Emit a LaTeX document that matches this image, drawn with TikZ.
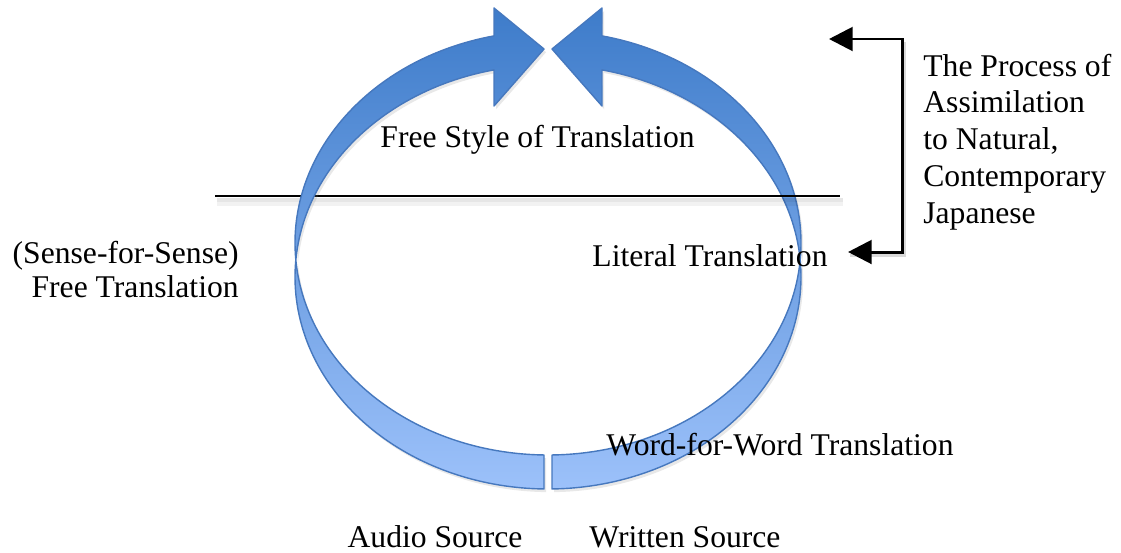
\documentclass[tikz,border=0pt]{standalone}
\usepackage{fontspec}
\setmainfont{Liberation Serif}
\usetikzlibrary{arrows.meta,shadows}
\definecolor{arrtop}{RGB}{62,124,202}
\definecolor{arrbot}{RGB}{156,193,250}
\definecolor{arredge}{RGB}{70,120,190}
\begin{document}
\begin{tikzpicture}[x=0.02cm,y=-0.02cm,
  lbl/.style={font=\fontsize{18pt}{21pt}\selectfont, inner sep=0pt},
  lblleft/.style={font=\fontsize{18pt}{19.4pt}\selectfont, inner sep=0pt, align=right},
  lblright/.style={font=\fontsize{18pt}{20.9pt}\selectfont, inner sep=0pt, align=left},
  ribbon/.style={draw=arredge, line width=0.8pt, top color=arrtop, bottom color=arrbot,
    line join=round, drop shadow={shadow xshift=1.2pt, shadow yshift=-1.8pt, opacity=0.18}},
  bracket/.style={line width=1.7pt, line join=miter,
    {Triangle[length=13.5pt,width=13.5pt]}-{Triangle[length=13.5pt,width=13.5pt]}},
  sep/.style={line width=0.8pt}]
\useasboundingbox (0,0) rectangle (1121,552);

% right circular arrow (below the separator line)
\path[ribbon] (601.98,35.88)
  arc[start angle=-77.68, end angle=4.60, x radius=253, y radius=212]
  arc[start angle=-4.60, end angle=89.094, x radius=253, y radius=212]
  -- ++(0,-34)
  arc[start angle=89.094, end angle=4.60, x radius=253, y radius=212]
  arc[start angle=-4.60, end angle=-77.68, x radius=253, y radius=212]
  -- (602,106) -- (552,49) -- (602,8) -- cycle;

% separator line with soft shadow
\coordinate (h1) at (215,196);
\coordinate (h2) at (840,196);
\fill[black, opacity=0.05] (217,198) rectangle (843,206);
\fill[black, opacity=0.05] (217,198) rectangle (843,202);
\draw[sep] (h1) -- (h2);

% left circular arrow (above the separator line)
\path[ribbon] (494.02,35.88)
  arc[start angle=257.68, end angle=175.40, x radius=253, y radius=212]
  arc[start angle=184.60, end angle=90.906, x radius=253, y radius=212]
  -- ++(0,-34)
  arc[start angle=90.906, end angle=175.40, x radius=253, y radius=212]
  arc[start angle=184.60, end angle=257.68, x radius=253, y radius=212]
  -- (494,106) -- (544,49) -- (494,8) -- cycle;

% bracket arrow
\coordinate (bt) at (829,39);
\coordinate (bb) at (848,252);
\coordinate (c1) at (902,39);
\coordinate (c2) at (902,252);
\draw[line width=1.7pt, black, opacity=0.15] ([shift={(2,3)}]c1) -- ([shift={(2,3)}]c2) -- ([shift={(2,3)}]bb);
\draw[bracket] (bt) -- (c1) -- (c2) -- (bb);

% labels
\node[lbl, anchor=base] (free) at (537.5,147) {Free Style of Translation};
\node[lbl, anchor=base] (lit) at (710,266) {Literal Translation};
\node[lblleft, anchor=north east] (sense) at (239,241) {(Sense-for-Sense)\\Free Translation};
\node[lblright, anchor=north west] (proc) at (923,53.5) {The Process of\\Assimilation\\to Natural,\\Contemporary\\Japanese};
\node[lbl, anchor=base] (word) at (780,455) {Word-for-Word Translation};
\node[lbl, anchor=base] (audio) at (435,547) {Audio Source};
\node[lbl, anchor=base] (written) at (685,547) {Written Source};
\end{tikzpicture}
\end{document}
